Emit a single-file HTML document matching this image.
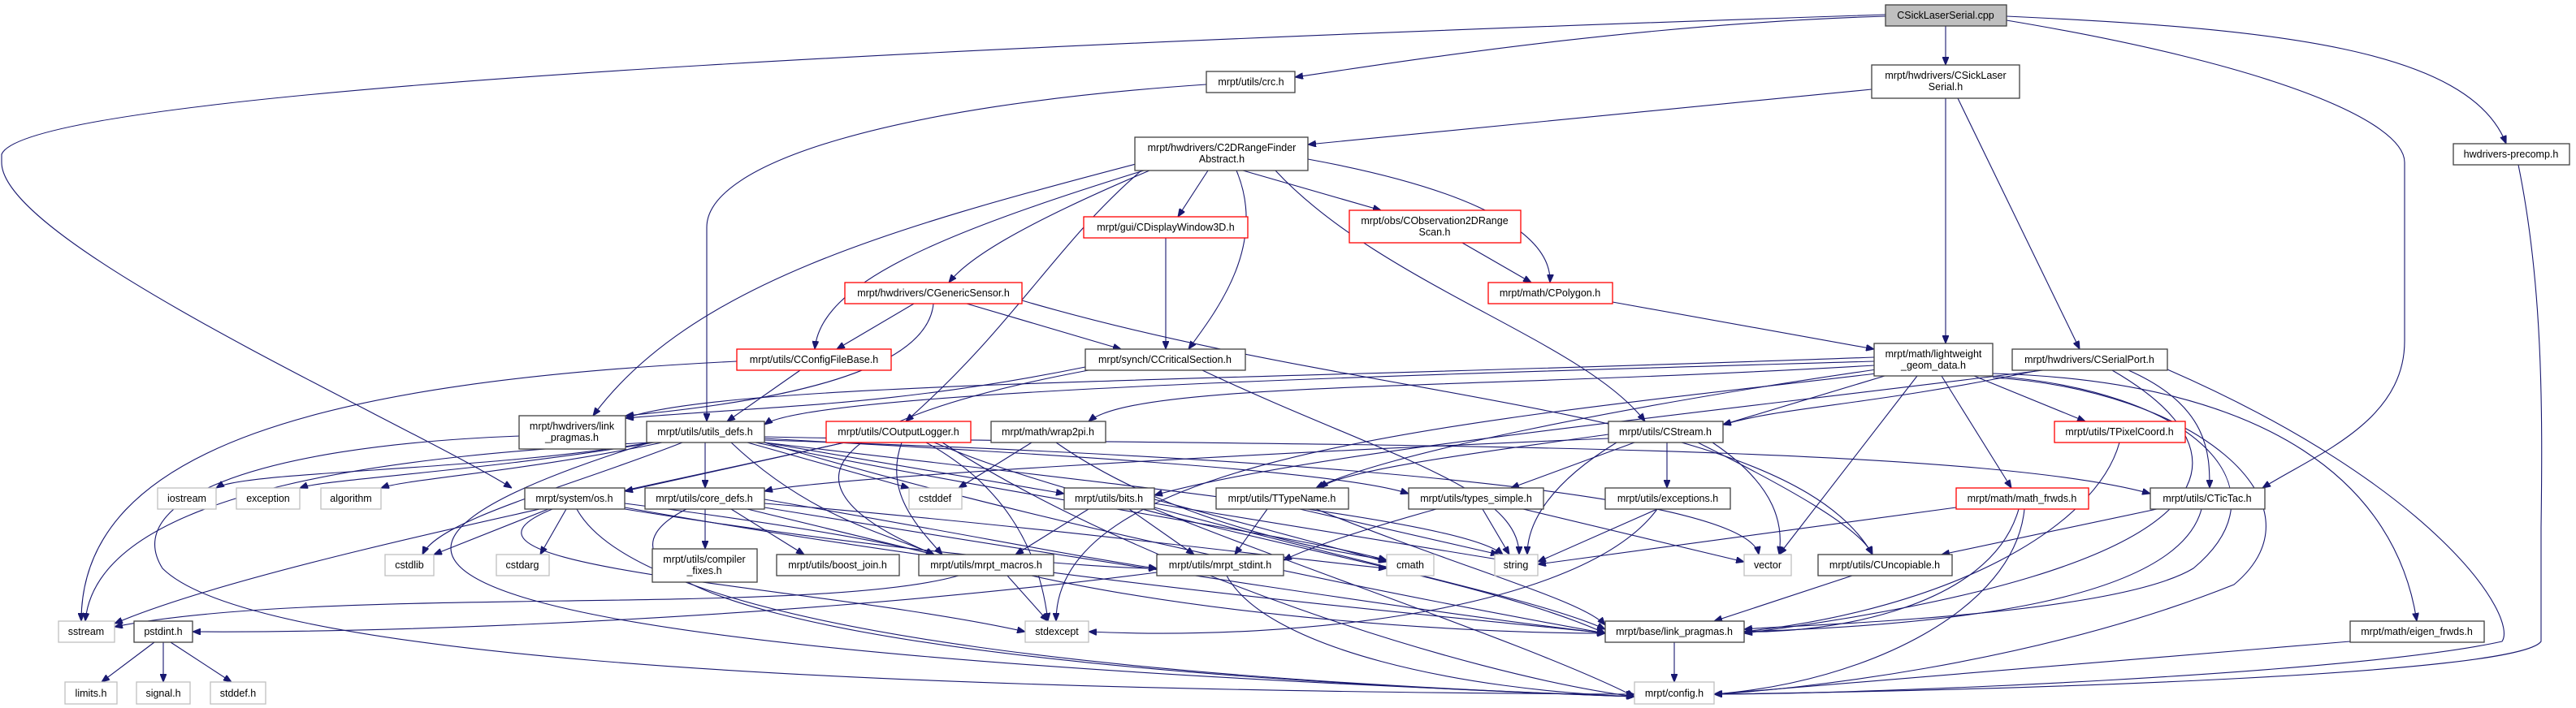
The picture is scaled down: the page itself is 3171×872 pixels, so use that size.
<!DOCTYPE html>
<html><head><meta charset="utf-8"><style>
html,body{margin:0;padding:0;background:#fff;}
svg{display:block;}
text{font-family:"Liberation Sans",sans-serif;font-size:12.5px;fill:#000;text-anchor:middle;}
.e{fill:none;stroke:#191970;stroke-width:1.1;marker-end:url(#ah);}
.n{fill:#fff;stroke:#404040;stroke-width:1.3;}
.r{fill:#fff;stroke:#ff0000;stroke-width:1.3;}
.g{fill:#fff;stroke:#bfbfbf;stroke-width:1.3;}
.c{fill:#bfbfbf;stroke:#404040;stroke-width:1.3;}
</style></head><body>
<svg width="3171" height="872" viewBox="0 0 3171 872" xmlns="http://www.w3.org/2000/svg">
<defs><marker id="ah" viewBox="0 0 10 8" refX="10" refY="4" markerWidth="10" markerHeight="8" markerUnits="userSpaceOnUse" orient="auto"><path d="M0 0 L10 4 L0 8 z" fill="#191970" stroke="#191970"/></marker></defs>
<g>
<path class="e" d="M2321 20 C2000 30, 1700 80, 1594 95"/>
<path class="e" d="M2395 32 L2395 80"/>
<path class="e" d="M2470 20 C2800 35, 3040 60, 3085 177"/>
<path class="e" d="M2470 25 C2800 80, 2960 150, 2960 200 L2960 420 C2960 520, 2850 560, 2785 601"/>
<path class="e" d="M2321 18 C1500 45, 40 100, 2 190 L2 200 C2 300, 500 520, 630 601"/>
<path class="e" d="M1485 104 C1100 130, 870 200, 870 280 L870 519"/>
<path class="e" d="M2304 110 L1610 178"/>
<path class="e" d="M2395 121 L2395 423"/>
<path class="e" d="M2410 121 L2560 430"/>
<path class="e" d="M3100 203 C3130 350, 3130 500, 3128 650 L3128 790 C3100 830, 2500 850, 2110 855"/>
<path class="e" d="M1398 202 C1100 280, 850 350, 730 512"/>
<path class="e" d="M1408 210 C1150 290, 1010 350, 1003 430"/>
<path class="e" d="M1415 210 C1250 280, 1190 320, 1168 348"/>
<path class="e" d="M1405 210 C1300 300, 1250 400, 1115 519"/>
<path class="e" d="M1487 210 L1450 267"/>
<path class="e" d="M1522 210 C1560 300, 1500 380, 1463 430"/>
<path class="e" d="M1530 210 L1700 259"/>
<path class="e" d="M1610 196 C1850 240, 1910 300, 1908 348"/>
<path class="e" d="M1570 210 C1700 350, 1950 420, 2025 519"/>
<path class="e" d="M1125 374 L1030 430"/>
<path class="e" d="M1190 374 L1380 430"/>
<path class="e" d="M1149 374 C1140 470, 900 500, 770 512"/>
<path class="e" d="M1258 370 C1700 500, 2200 500, 2305 683"/>
<path class="e" d="M1435 292 L1435 430"/>
<path class="e" d="M1800 299 L1885 348"/>
<path class="e" d="M1985 372 L2307 430"/>
<path class="e" d="M907 445 C400 470, 100 550, 100 765"/>
<path class="e" d="M985 456 L895 519"/>
<path class="e" d="M1336 452 C1100 500, 950 500, 770 515"/>
<path class="e" d="M1480 456 C1700 560, 1870 600, 1870 683"/>
<path class="e" d="M1340 456 C1000 520, 950 600, 1150 683"/>
<path class="e" d="M2307 445 C1800 460, 1000 480, 941 523"/>
<path class="e" d="M2307 440 C1500 470, 900 470, 770 515"/>
<path class="e" d="M2307 450 C1800 480, 1400 470, 1340 519"/>
<path class="e" d="M2310 455 C2000 500, 1700 560, 1620 601"/>
<path class="e" d="M2320 463 L2121 523"/>
<path class="e" d="M2310 460 C1800 520, 1300 560, 1300 765"/>
<path class="e" d="M2360 463 L2190 683"/>
<path class="e" d="M2390 463 L2476 601"/>
<path class="e" d="M2430 463 L2567 519"/>
<path class="e" d="M2450 463 C2700 480, 2820 600, 2700 700 C2600 760, 2200 770, 2147 775"/>
<path class="e" d="M2453 460 C2800 470, 2950 600, 2975 765"/>
<path class="e" d="M2453 465 C2700 480, 2870 620, 2750 720 C2500 820, 2200 850, 2110 855"/>
<path class="e" d="M2510 456 C2300 500, 2200 500, 2121 523"/>
<path class="e" d="M2620 456 C2720 500, 2720 560, 2720 601"/>
<path class="e" d="M2600 456 C2780 560, 2760 700, 2147 780"/>
<path class="e" d="M2668 455 C3000 600, 3100 760, 3080 790 C2900 830, 2300 855, 2110 855"/>
<path class="e" d="M2515 456 C2000 520, 1600 560, 1421 610"/>
<path class="e" d="M639 537 C300 550, 150 620, 200 700 C300 800, 900 850, 2012 855"/>
<path class="e" d="M800 545 C600 580, 300 580, 266 601"/>
<path class="e" d="M805 545 C600 580, 400 590, 369 601"/>
<path class="e" d="M815 545 C650 580, 500 590, 469 601"/>
<path class="e" d="M800 545 C500 560, 120 600, 105 765"/>
<path class="e" d="M840 545 C700 600, 540 640, 520 683"/>
<path class="e" d="M868 545 L868 601"/>
<path class="e" d="M920 545 L1119 601"/>
<path class="e" d="M941 545 L1310 608"/>
<path class="e" d="M900 545 C1000 640, 1100 660, 1150 683"/>
<path class="e" d="M941 540 C1300 560, 1650 580, 1734 608"/>
<path class="e" d="M941 538 C1500 550, 2400 540, 2647 608"/>
<path class="e" d="M941 545 C1400 600, 1800 640, 1850 683"/>
<path class="e" d="M941 542 C1500 560, 2150 600, 2165 683"/>
<path class="e" d="M800 545 C300 700, 500 800, 2012 858"/>
<path class="e" d="M941 545 C1300 650, 1700 730, 1976 780"/>
<path class="e" d="M930 545 C1300 620, 1600 660, 1707 690"/>
<path class="e" d="M1040 545 L769 605"/>
<path class="e" d="M1110 545 C1090 600, 1120 640, 1160 683"/>
<path class="e" d="M1140 545 C1240 600, 1280 680, 1290 765"/>
<path class="e" d="M1040 545 C700 620, 300 700, 141 768"/>
<path class="e" d="M1150 545 C1400 650, 1800 700, 1976 780"/>
<path class="e" d="M1160 545 C1400 700, 1800 830, 2012 858"/>
<path class="e" d="M1270 545 L1180 601"/>
<path class="e" d="M1300 545 C1450 650, 1650 680, 1707 690"/>
<path class="e" d="M675 627 L534 683"/>
<path class="e" d="M697 627 L665 683"/>
<path class="e" d="M769 620 C1000 650, 1100 670, 1150 683"/>
<path class="e" d="M769 627 C1100 680, 1350 700, 1424 700"/>
<path class="e" d="M769 625 C1300 720, 1800 760, 1976 780"/>
<path class="e" d="M710 627 C800 790, 1500 840, 2012 858"/>
<path class="e" d="M680 627 C500 700, 1000 720, 1262 778"/>
<path class="e" d="M868 627 L868 676"/>
<path class="e" d="M900 627 L990 683"/>
<path class="e" d="M920 627 L1150 683"/>
<path class="e" d="M941 620 C1300 650, 1600 690, 1707 700"/>
<path class="e" d="M845 627 C700 700, 900 820, 2012 858"/>
<path class="e" d="M941 625 C1400 700, 1800 760, 1976 780"/>
<path class="e" d="M941 615 C1200 660, 1350 690, 1424 700"/>
<path class="e" d="M1340 627 L1250 683"/>
<path class="e" d="M1390 627 L1470 683"/>
<path class="e" d="M1421 615 L1707 692"/>
<path class="e" d="M1421 620 L1850 690"/>
<path class="e" d="M1421 625 C1700 700, 1900 740, 1976 775"/>
<path class="e" d="M1421 627 C1600 700, 1900 800, 2012 858"/>
<path class="e" d="M1560 627 L1520 683"/>
<path class="e" d="M1600 627 L1845 683"/>
<path class="e" d="M1620 627 C1800 700, 1950 740, 1976 770"/>
<path class="e" d="M1768 627 C1650 660, 1600 680, 1580 690"/>
<path class="e" d="M1825 627 L1858 683"/>
<path class="e" d="M1875 627 L2147 692"/>
<path class="e" d="M2012 545 L1860 601"/>
<path class="e" d="M2052 545 L2052 601"/>
<path class="e" d="M2108 545 C2190 600, 2195 650, 2190 683"/>
<path class="e" d="M2090 545 C2200 600, 2290 650, 2305 683"/>
<path class="e" d="M1980 540 C1500 560, 1000 590, 941 605"/>
<path class="e" d="M1980 535 C1800 560, 1650 580, 1625 601"/>
<path class="e" d="M1990 545 C1900 600, 1880 650, 1880 683"/>
<path class="e" d="M2040 627 L1893 692"/>
<path class="e" d="M2040 627 C1950 750, 1600 790, 1340 778"/>
<path class="e" d="M2408 625 L1893 695"/>
<path class="e" d="M2485 627 C2450 750, 2250 780, 2147 778"/>
<path class="e" d="M2492 627 C2480 750, 2300 840, 2110 855"/>
<path class="e" d="M2609 545 C2580 650, 2400 750, 2147 778"/>
<path class="e" d="M2655 627 L2390 683"/>
<path class="e" d="M2710 627 C2680 740, 2400 770, 2147 778"/>
<path class="e" d="M2280 709 L2110 765"/>
<path class="e" d="M1180 709 C1000 760, 400 720, 141 772"/>
<path class="e" d="M1240 709 L1290 765"/>
<path class="e" d="M1270 709 C1500 760, 1800 780, 1976 780"/>
<path class="e" d="M1424 705 C1000 760, 500 780, 237 778"/>
<path class="e" d="M1510 709 C1560 800, 1800 850, 2012 858"/>
<path class="e" d="M190 791 L125 840"/>
<path class="e" d="M201 791 L201 840"/>
<path class="e" d="M210 791 L285 840"/>
<path class="e" d="M2061 791 L2061 840"/>
<path class="e" d="M2893 790 L2110 855"/>
</g>
<g>
<rect class="c" x="2321" y="6" width="149" height="26"/><text x="2395" y="23">CSickLaserSerial.cpp</text>
<rect class="n" x="1485" y="88" width="109" height="26"/><text x="1540" y="105">mrpt/utils/crc.h</text>
<rect class="n" x="2304" y="80" width="182" height="41"/><text x="2395" y="97">mrpt/hwdrivers/CSickLaser</text><text x="2395" y="111">Serial.h</text>
<rect class="n" x="3020" y="177" width="143" height="26"/><text x="3091" y="194">hwdrivers-precomp.h</text>
<rect class="n" x="1397" y="169" width="213" height="41"/><text x="1504" y="186">mrpt/hwdrivers/C2DRangeFinder</text><text x="1504" y="200">Abstract.h</text>
<rect class="r" x="1334" y="267" width="202" height="26"/><text x="1435" y="284">mrpt/gui/CDisplayWindow3D.h</text>
<rect class="r" x="1661" y="259" width="211" height="40"/><text x="1766" y="276">mrpt/obs/CObservation2DRange</text><text x="1766" y="290">Scan.h</text>
<rect class="r" x="1040" y="348" width="218" height="26"/><text x="1149" y="365">mrpt/hwdrivers/CGenericSensor.h</text>
<rect class="r" x="1832" y="348" width="153" height="26"/><text x="1908" y="365">mrpt/math/CPolygon.h</text>
<rect class="r" x="907" y="430" width="190" height="26"/><text x="1002" y="447">mrpt/utils/CConfigFileBase.h</text>
<rect class="n" x="1336" y="430" width="197" height="26"/><text x="1434" y="447">mrpt/synch/CCriticalSection.h</text>
<rect class="n" x="2307" y="423" width="146" height="40"/><text x="2380" y="440">mrpt/math/lightweight</text><text x="2380" y="454">_geom_data.h</text>
<rect class="n" x="2477" y="430" width="191" height="26"/><text x="2572" y="447">mrpt/hwdrivers/CSerialPort.h</text>
<rect class="n" x="639" y="512" width="131" height="41"/><text x="704" y="529">mrpt/hwdrivers/link</text><text x="704" y="543">_pragmas.h</text>
<rect class="n" x="796" y="519" width="145" height="26"/><text x="868" y="536">mrpt/utils/utils_defs.h</text>
<rect class="r" x="1017" y="519" width="178" height="26"/><text x="1106" y="536">mrpt/utils/COutputLogger.h</text>
<rect class="n" x="1220" y="519" width="141" height="26"/><text x="1290" y="536">mrpt/math/wrap2pi.h</text>
<rect class="n" x="1980" y="519" width="141" height="26"/><text x="2050" y="536">mrpt/utils/CStream.h</text>
<rect class="r" x="2529" y="519" width="161" height="26"/><text x="2609" y="536">mrpt/utils/TPixelCoord.h</text>
<rect class="g" x="194" y="601" width="72" height="26"/><text x="230" y="618">iostream</text>
<rect class="g" x="291" y="601" width="78" height="26"/><text x="330" y="618">exception</text>
<rect class="g" x="395" y="601" width="74" height="26"/><text x="432" y="618">algorithm</text>
<rect class="n" x="646" y="601" width="123" height="26"/><text x="707" y="618">mrpt/system/os.h</text>
<rect class="n" x="794" y="601" width="147" height="26"/><text x="867" y="618">mrpt/utils/core_defs.h</text>
<rect class="g" x="1119" y="601" width="65" height="26"/><text x="1151" y="618">cstddef</text>
<rect class="n" x="1310" y="601" width="111" height="26"/><text x="1365" y="618">mrpt/utils/bits.h</text>
<rect class="n" x="1497" y="601" width="163" height="26"/><text x="1578" y="618">mrpt/utils/TTypeName.h</text>
<rect class="n" x="1734" y="601" width="166" height="26"/><text x="1817" y="618">mrpt/utils/types_simple.h</text>
<rect class="n" x="1976" y="601" width="154" height="26"/><text x="2053" y="618">mrpt/utils/exceptions.h</text>
<rect class="r" x="2408" y="601" width="163" height="26"/><text x="2489" y="618">mrpt/math/math_frwds.h</text>
<rect class="n" x="2647" y="601" width="141" height="26"/><text x="2717" y="618">mrpt/utils/CTicTac.h</text>
<rect class="g" x="474" y="683" width="60" height="26"/><text x="504" y="700">cstdlib</text>
<rect class="g" x="611" y="683" width="65" height="26"/><text x="643" y="700">cstdarg</text>
<rect class="n" x="803" y="676" width="129" height="41"/><text x="867" y="693">mrpt/utils/compiler</text><text x="867" y="707">_fixes.h</text>
<rect class="n" x="956" y="683" width="151" height="26"/><text x="1031" y="700">mrpt/utils/boost_join.h</text>
<rect class="n" x="1131" y="683" width="166" height="26"/><text x="1214" y="700">mrpt/utils/mrpt_macros.h</text>
<rect class="n" x="1424" y="683" width="156" height="26"/><text x="1502" y="700">mrpt/utils/mrpt_stdint.h</text>
<rect class="g" x="1707" y="683" width="58" height="26"/><text x="1736" y="700">cmath</text>
<rect class="g" x="1840" y="683" width="53" height="26"/><text x="1866" y="700">string</text>
<rect class="g" x="2147" y="683" width="58" height="26"/><text x="2176" y="700">vector</text>
<rect class="n" x="2238" y="683" width="165" height="26"/><text x="2320" y="700">mrpt/utils/CUncopiable.h</text>
<rect class="g" x="72" y="765" width="69" height="26"/><text x="106" y="782">sstream</text>
<rect class="n" x="165" y="765" width="72" height="26"/><text x="201" y="782">pstdint.h</text>
<rect class="g" x="1262" y="765" width="78" height="26"/><text x="1301" y="782">stdexcept</text>
<rect class="n" x="1976" y="765" width="171" height="26"/><text x="2061" y="782">mrpt/base/link_pragmas.h</text>
<rect class="n" x="2893" y="765" width="165" height="26"/><text x="2975" y="782">mrpt/math/eigen_frwds.h</text>
<rect class="g" x="80" y="840" width="64" height="27"/><text x="112" y="858">limits.h</text>
<rect class="g" x="168" y="840" width="66" height="27"/><text x="201" y="858">signal.h</text>
<rect class="g" x="259" y="840" width="68" height="27"/><text x="293" y="858">stddef.h</text>
<rect class="g" x="2012" y="840" width="98" height="27"/><text x="2061" y="858">mrpt/config.h</text>
</g>
</svg>
</body></html>
